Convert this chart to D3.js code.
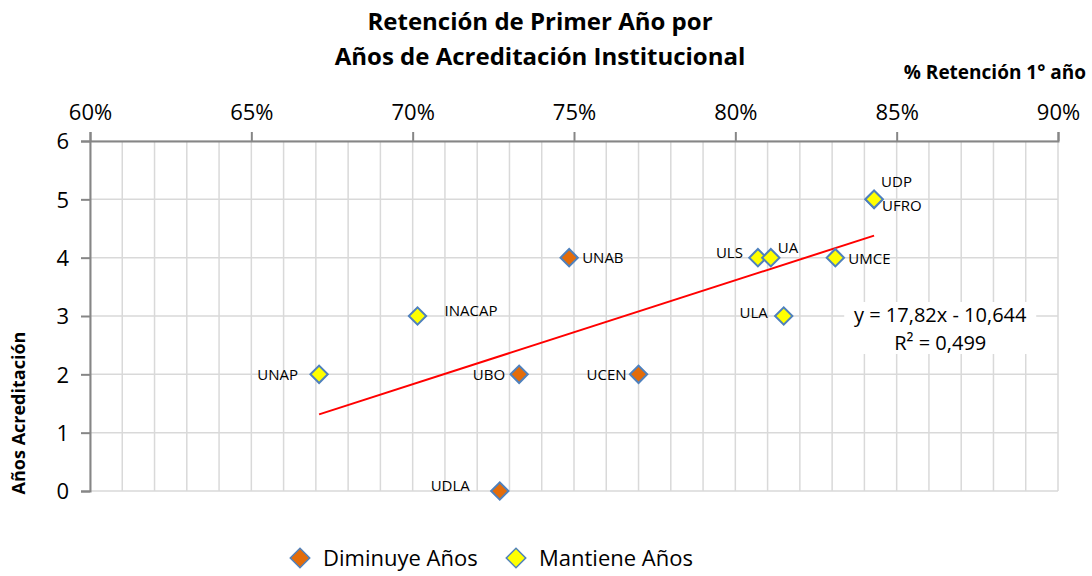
<!DOCTYPE html>
<html>
<head>
<meta charset="utf-8">
<script src="https://cdn.jsdelivr.net/npm/d3@7"></script>
<style>
  body { margin: 0; background: #fff; }
  svg { font-family: "Open Sans", sans-serif; }
</style>
</head>
<body>
<div id="chart"></div>
<script>
// data
const names     = ["UDLA", "UBO", "UNAB", "UCEN", "UNAP", "INACAP", "ULS", "UA", "ULA", "UMCE", "UDP", "UFRO"];
const retention = [0.727, 0.733, 0.7485, 0.770, 0.671, 0.7015, 0.807, 0.811, 0.815, 0.831, 0.843, 0.843];
const years     = [0, 2, 4, 2, 2, 3, 4, 4, 3, 4, 5, 5];
const groups    = ["Diminuye Años", "Diminuye Años", "Diminuye Años", "Diminuye Años",
                   "Mantiene Años", "Mantiene Años", "Mantiene Años", "Mantiene Años",
                   "Mantiene Años", "Mantiene Años", "Mantiene Años", "Mantiene Años"];
const seriesNames = ["Diminuye Años", "Mantiene Años"];
const xTicks = [0.60, 0.65, 0.70, 0.75, 0.80, 0.85, 0.90];
const yTicks = [0, 1, 2, 3, 4, 5, 6];
// trend line as printed on the chart
const slope = 17.82, intercept = -10.644;
const eqLines = ["y = 17,82x - 10,644", "R² = 0,499"];

// label placement (dx, dy, anchor) -- styling only
const labelPos = {
  UDLA:   [-30, -5, "end"],
  UBO:    [-14, 0, "end"],
  UNAB:   [13, 0, "start"],
  UCEN:   [-12, 0, "end"],
  UNAP:   [-21, 0, "end"],
  INACAP: [27, -5, "start"],
  ULS:    [-15, -5, "end"],
  UA:     [7, -10, "start"],
  ULA:    [-16, -3, "end"],
  UMCE:   [13, 1, "start"],
  UDP:    [7, -18, "start"],
  UFRO:   [8, 6, "start"]
};

const colors = { "Diminuye Años": "#E36C0A", "Mantiene Años": "#FFFF00" };
const W = 1092, H = 576;
const margin = { top: 141, right: 34, bottom: 85, left: 90 };

const svg = d3.select("#chart").append("svg")
  .attr("width", W).attr("height", H);

const x = d3.scaleLinear().domain([0.60, 0.90]).range([margin.left, W - margin.right]);
const y = d3.scaleLinear().domain([0, 6]).range([H - margin.bottom, margin.top]);

// gridlines
const minor = d3.range(60, 91).map(v => v / 100);
svg.append("g").selectAll("line.v").data(minor).join("line")
  .attr("x1", d => x(d)).attr("x2", d => x(d))
  .attr("y1", y(0)).attr("y2", y(6))
  .attr("stroke", "#d9d9d9").attr("stroke-width", 1.5);
svg.append("g").selectAll("line.h").data(yTicks).join("line")
  .attr("x1", x(0.60)).attr("x2", x(0.90))
  .attr("y1", d => y(d)).attr("y2", d => y(d))
  .attr("stroke", "#d9d9d9").attr("stroke-width", 1.5);

// axes
const xAxis = d3.axisTop(x).tickValues(xTicks).tickSize(9).tickPadding(12)
  .tickFormat(d3.format(".0%"));
const gx = svg.append("g").attr("transform", `translate(0,${y(6)})`).call(xAxis);
const yAxis = d3.axisLeft(y).tickValues(yTicks).tickSize(9).tickPadding(12)
  .tickFormat(d3.format("d"));
const gy = svg.append("g").attr("transform", `translate(${x(0.60)},0)`).call(yAxis);

[gx, gy].forEach(g => {
  g.select(".domain").attr("stroke", "#868686").attr("stroke-width", 2);
  g.selectAll(".tick line").attr("stroke", "#868686").attr("stroke-width", 2);
  g.selectAll(".tick text").attr("font-size", 22).attr("fill", "#000")
    .attr("font-family", "Open Sans");
});
gy.selectAll(".tick text").attr("dy", "0.35em");

// trend line
const xs = d3.extent(retention);
svg.append("line")
  .attr("x1", x(xs[0])).attr("y1", y(slope * xs[0] + intercept))
  .attr("x2", x(xs[1])).attr("y2", y(slope * xs[1] + intercept))
  .attr("stroke", "#ff0000").attr("stroke-width", 2);

// equation box
const eq = svg.append("g").attr("transform", `translate(${x(0.8635)},0)`);
eq.append("rect").attr("x", -96).attr("y", y(3) - 14).attr("width", 192).attr("height", 52)
  .attr("fill", "#fff");
eq.selectAll("text").data(eqLines).join("text")
  .attr("x", 0).attr("y", (d, i) => y(3) + 6 + i * 28)
  .attr("text-anchor", "middle").attr("font-size", 20).text(d => d);

// points
const pts = names.map((n, i) => ({ name: n, x: retention[i], y: years[i], group: groups[i] }));
const diamond = d3.symbol().type(d3.symbolSquare).size(150);
svg.append("g").selectAll("path").data(pts).join("path")
  .attr("d", diamond)
  .attr("transform", d => `translate(${x(d.x)},${y(d.y)}) rotate(45)`)
  .attr("fill", d => colors[d.group])
  .attr("stroke", "#4F81BD").attr("stroke-width", 2);

svg.append("g").selectAll("text").data(pts).join("text")
  .attr("x", d => x(d.x) + labelPos[d.name][0])
  .attr("y", d => y(d.y) + labelPos[d.name][1])
  .attr("dy", "0.35em")
  .attr("text-anchor", d => labelPos[d.name][2])
  .attr("font-size", 15).text(d => d.name);

// titles
const title = ["Retención de Primer Año por", "Años de Acreditación Institucional"];
svg.append("g").selectAll("text").data(title).join("text")
  .attr("x", 540).attr("y", (d, i) => 30 + i * 35)
  .attr("text-anchor", "middle").attr("font-size", 24).attr("font-weight", "bold")
  .text(d => d);

svg.append("text").attr("x", W - 6).attr("y", 79).attr("text-anchor", "end")
  .attr("font-size", 19).attr("font-weight", "bold").text("% Retención 1° año");

svg.append("text")
  .attr("transform", `translate(25,${413}) rotate(-90)`)
  .attr("text-anchor", "middle").attr("font-size", 18).attr("font-weight", "bold")
  .text("Años Acreditación");

// legend
const legend = svg.append("g").attr("transform", `translate(300,${H - 18})`);
const lg = legend.selectAll("g").data(seriesNames).join("g")
  .attr("transform", (d, i) => `translate(${i * 216},0)`);
lg.append("path").attr("d", d3.symbol().type(d3.symbolSquare).size(190))
  .attr("transform", "rotate(45)")
  .attr("fill", d => colors[d]).attr("stroke", "#4F81BD").attr("stroke-width", 1.5);
lg.append("text").attr("x", 23).attr("dy", "0.35em").attr("font-size", 22).text(d => d);
</script>
</body>
</html>
